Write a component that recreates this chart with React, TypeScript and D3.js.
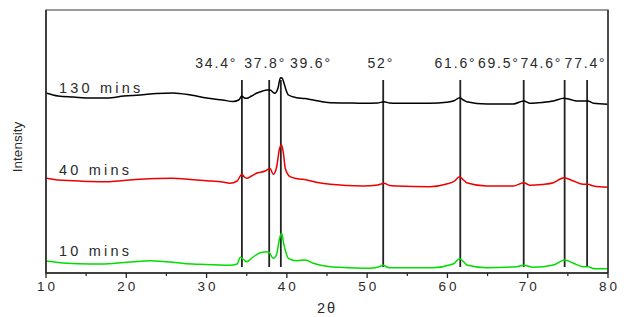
import React from "react";
import * as d3 from "d3";

// XRD patterns, [2θ, intensity a.u.]
const pattern130: [number, number][] = [
  [10, 180], [11.5, 177], [13.4, 176], [15.5, 175], [17.6, 175], [19.7, 177], [21.7, 178],
  [23.8, 179.5], [25.8, 180], [28, 178], [30, 175], [32, 173], [33.3, 171.5], [34.0, 173],
  [34.4, 177], [34.7, 175], [35.0, 174.7], [35.6, 177], [36.2, 179.7], [37.0, 182], [37.5, 183],
  [37.9, 183], [38.5, 179.7], [38.9, 185], [39.2, 195.3], [39.4, 195], [39.6, 191], [39.9, 183],
  [40.2, 178], [41.2, 175.3], [42.2, 174.5], [43.3, 173], [45.4, 170.3], [47.5, 170], [49.5, 169.7],
  [51.3, 170], [52.1, 171.3], [52.8, 170], [53.7, 169.7], [57.8, 169.7], [59.9, 170.7], [60.9, 172.5],
  [61.5, 175.3], [62.0, 173], [62.4, 171.3], [64.9, 169], [68.2, 169], [69.5, 172], [70.3, 169.7],
  [71.8, 170.5], [73.2, 172], [74.5, 174.7], [75.3, 173.5], [76.1, 172], [77.5, 172], [78.2, 169.7],
  [80, 168.7],
];

const pattern40: [number, number][] = [
  [10, 94.7], [11.5, 93], [13.4, 92.3], [15.5, 91.5], [17.6, 91.3], [19.7, 92.5], [21.7, 93.7],
  [23.8, 94.5], [25.8, 94.7], [28, 93.5], [30, 92.3], [32, 91], [32.9, 89.7], [33.8, 92],
  [34.4, 98.7], [34.7, 96], [35.0, 94.7], [35.6, 97], [36.2, 99.7], [37.3, 102], [37.9, 104.7],
  [38.3, 98.7], [38.7, 105], [39.1, 124.7], [39.35, 128], [39.6, 118], [39.8, 104.7], [40.4, 96.3],
  [41.2, 94.5], [42.5, 93], [43.5, 91], [45.4, 88.7], [49.5, 87], [51.3, 88], [52.1, 89.7],
  [52.8, 87.5], [53.7, 87], [57.8, 86.3], [59.9, 89], [60.9, 92], [61.5, 96.3], [62.0, 93],
  [62.4, 90.3], [64.9, 87], [68.2, 87], [69.5, 90.3], [70.3, 87.7], [71.8, 88.5], [73.2, 90.3],
  [74.5, 95.3], [75.6, 92.3], [76.9, 88.7], [77.5, 88.7], [78.2, 87], [80, 85.7],
];

const pattern10: [number, number][] = [
  [10, 12], [12.6, 9.7], [15.5, 9], [16.9, 9], [19.7, 10.5], [20.9, 11.3], [23, 12.3], [25, 11.3],
  [27.2, 9.5], [29.2, 8.7], [32.9, 7.7], [33.8, 9], [34.2, 15.7], [34.6, 13.5], [35.0, 11.3],
  [35.8, 16], [36.7, 20.3], [37.7, 21.3], [38.3, 14.7], [38.7, 18], [39.1, 34.7], [39.35, 39.7],
  [39.6, 29.7], [40.2, 14.7], [41.2, 12.3], [42.3, 13], [43.3, 9.7], [45.4, 6.3], [46.6, 5.7],
  [50.2, 4.7], [51.4, 6], [52.0, 7.7], [52.7, 5.3], [58.1, 5.3], [60.7, 9], [61.5, 14.3],
  [62.1, 10.5], [62.4, 8], [64.9, 5.3], [68.6, 6.3], [69.5, 7.7], [70.7, 5.7], [73.2, 8],
  [74.6, 13], [75.7, 9.7], [76.9, 6.3], [77.5, 6.3], [78.3, 4.3], [80, 4.3],
];

const seriesNames = ["130 mins", "40 mins", "10 mins"];
const seriesColors = ["#000000", "#ee0000", "#00dd00"];
const seriesLabelY = [180, 98, 17];

// reference lines and their labels
const peakLines = [34.4, 37.8, 39.25, 52, 61.6, 69.5, 74.6, 77.4];
const peakLabels = ["34.4°", "37.8°", "39.6°", "52°", "61.6°", "69.5°", "74.6°", "77.4°"];
const peakLabelAt = [31.2, 37.3, 43.0, 51.7, 61.0, 66.4, 71.7, 77.2];

const xTicks = [10, 20, 30, 40, 50, 60, 70, 80];
const xMinor = [15, 25, 35, 45, 55, 65, 75];

const W = 641;
const H = 317;
const margin = { top: 10, right: 33, bottom: 44, left: 46 };

export default function App() {
  const x = d3.scaleLinear().domain([10, 80]).range([margin.left, W - margin.right]);
  const y = d3.scaleLinear().domain([0, 263]).range([H - margin.bottom, margin.top]);
  const line = d3.line<[number, number]>().x(d => x(d[0])).y(d => y(d[1])).curve(d3.curveMonotoneX);
  const all = [pattern130, pattern40, pattern10];
  const font = "'Liberation Sans', Arial, sans-serif";
  const y0 = H - margin.bottom;

  return (
    <div style={{ position: "fixed", left: 0, top: 0 }}>
      <svg width={W} height={H} style={{ display: "block", background: "#fff" }} fontFamily={font}>
        {/* peak marker lines */}
        {peakLines.map((p, i) => (
          <line key={"pl" + i} x1={x(p)} x2={x(p)} y1={y(193)} y2={y(6)} stroke="#222" strokeWidth={1.8} />
        ))}
        {peakLabels.map((t, i) => (
          <text key={"lb" + i} x={x(peakLabelAt[i])} y={68} textAnchor="middle" fontSize={14} letterSpacing={1.8} fill="#2a2a2a">
            {t}
          </text>
        ))}

        {all.map((d, i) => (
          <path key={"s" + i} d={line(d) || ""} fill="none" stroke={seriesColors[i]} strokeWidth={1.5} strokeLinejoin="round" />
        ))}
        {seriesNames.map((n, i) => (
          <text key={"n" + i} x={59} y={y(seriesLabelY[i])} fontSize={14.5} letterSpacing={3.2} fill="#2a2a2a">
            {n}
          </text>
        ))}

        {/* frame */}
        <rect x={margin.left} y={margin.top} width={W - margin.left - margin.right} height={y0 - margin.top}
          fill="none" stroke="#666" strokeWidth={1.3} />
        <line x1={margin.left} x2={margin.left} y1={margin.top} y2={y0} stroke="#222" strokeWidth={1.5} />
        <line x1={W - margin.right} x2={W - margin.right} y1={margin.top} y2={y0} stroke="#333" strokeWidth={1.5} />
        <line x1={margin.left} x2={W - margin.right} y1={y0} y2={y0} stroke="#222" strokeWidth={1.5} />

        {xTicks.map(t => (
          <g key={"t" + t}>
            <line x1={x(t)} x2={x(t)} y1={y0} y2={y0 + 5} stroke="#222" strokeWidth={1.3} />
            <text x={x(t) + 1.5} y={291} textAnchor="middle" fontSize={13.5} letterSpacing={3} fill="#2a2a2a">{t}</text>
          </g>
        ))}
        {xMinor.map(t => (
          <line key={"m" + t} x1={x(t)} x2={x(t)} y1={y0} y2={y0 + 3} stroke="#222" strokeWidth={1.2} />
        ))}

        <text x={327} y={313} textAnchor="middle" fontSize={14.5} letterSpacing={2} fill="#2a2a2a">2θ</text>
        <text transform="translate(22,147) rotate(-90)" textAnchor="middle" fontSize={13.5} fill="#2a2a2a">Intensity</text>
      </svg>
    </div>
  );
}
